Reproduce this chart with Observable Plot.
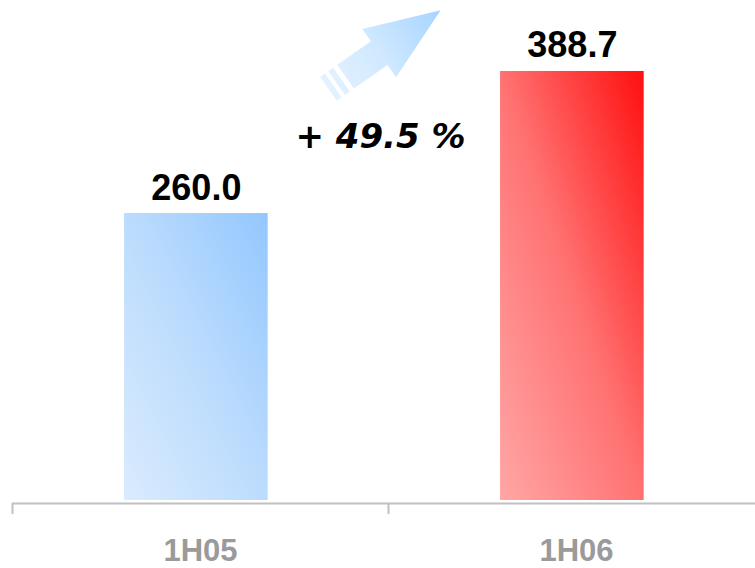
<!DOCTYPE html>
<html>
<head>
<meta charset="utf-8">
<script src="https://cdn.jsdelivr.net/npm/d3@7"></script>
<script src="https://cdn.jsdelivr.net/npm/@observablehq/plot@0.6"></script>
<style>
  html, body { margin: 0; padding: 0; background: #fff; }
  #chart svg { display: block; }
</style>
</head>
<body>
<div id="chart"></div>
<script>
// ---- data ----
const periods = ["1H05", "1H06"];
const revenue = [260.0, 388.7];
const growthPct = (revenue[1] / revenue[0] - 1) * 100;

// ---- styles ----
const barFills = ["url(#gradBlue)", "url(#gradRed)"];

const data = periods.map((period, i) => ({ period, value: revenue[i], i }));

// gradient definitions
function defs() {
  const d = d3.create("svg:defs");
  const mk = (id, stops, x1, y1, x2, y2) => {
    const g = d.append("linearGradient").attr("id", id)
      .attr("x1", x1).attr("y1", y1).attr("x2", x2).attr("y2", y2);
    stops.forEach(([o, c]) => g.append("stop").attr("offset", o).attr("stop-color", c));
  };
  mk("gradBlue", [[0, "#daebfd"], [0.5, "#bcdcfd"], [1, "#93c7ff"]], 0, 1, 1, 0);
  mk("gradRed", [[0, "#ffa6a6"], [0.5, "#ff7272"], [1, "#ff0f0f"]], 0, 1, 1, 0);
  mk("arrowGrad", [[0, "#e4f2ff"], [0.45, "#d0e9ff"], [1, "#a6d4ff"]], 0, 1, 0, 0);
  return d.node();
}

// decorative block arrow shape (drawn pointing up, tip at -l)
const arrowShape = {
  draw(context, l) {
    const tip = -l;
    context.moveTo(0, tip);
    context.lineTo(29.5, tip + 75);
    context.lineTo(14.5, tip + 75);
    context.lineTo(14.5, tip + 116);
    context.lineTo(-14.5, tip + 116);
    context.lineTo(-14.5, tip + 75);
    context.lineTo(-29.5, tip + 75);
    context.closePath();
    context.rect(-14.5, tip + 121, 29, 6);
    context.rect(-14.5, tip + 131, 29, 6);
  }
};

const chart = Plot.plot({
  width: 755,
  height: 568,
  marginTop: 0,
  marginBottom: 68,
  marginLeft: 12,
  marginRight: -9,
  x: { domain: [0, periods.length], axis: null },
  y: { domain: [0, 453], axis: null },
  color: { type: "identity" },
  style: { background: "white" },
  marks: [
    defs,
    Plot.rect(data, {
      x1: d => d.i + 0.298,
      x2: d => d.i + 0.68,
      y1: 0,
      y2: "value",
      fill: d => barFills[d.i]
    }),
    Plot.ruleY([0], { dy: 3, stroke: "#c0c0c0", strokeWidth: 2 }),
    Plot.axisX({
      ticks: d3.range(periods.length + 1),
      tickSize: 11,
      tickFormat: () => "",
      dy: 3,
      stroke: "#c0c0c0",
      strokeWidth: 2,
      strokeOpacity: 1
    }),
    Plot.text(data, {
      x: d => d.i + 0.489,
      y: "value",
      text: d => d3.format(".1f")(d.value),
      lineAnchor: "bottom",
      dy: -14,
      fontSize: 36,
      fontWeight: "bold",
      fontFamily: "Liberation Sans, Arial, sans-serif",
      fill: "#000"
    }),
    Plot.text(data, {
      x: d => d.i + 0.5,
      y: 0,
      text: "period",
      lineAnchor: "bottom",
      dy: 60,
      fontSize: 31,
      fontWeight: "bold",
      fontFamily: "Liberation Sans, Arial, sans-serif",
      fill: "#9a9a9a"
    }),
    Plot.vector([growthPct], {
      x: 1,
      y: revenue[1],
      dx: -4,
      dy: -22,
      length: 137,
      rotate: 55,
      anchor: "middle",
      shape: arrowShape,
      fill: "url(#arrowGrad)",
      stroke: "none"
    }),
    Plot.text([growthPct], {
      x: 1,
      y: revenue[0],
      text: d => `+ ${d.toFixed(1)} %`,
      lineAnchor: "bottom",
      dx: -8,
      dy: -66,
      fontSize: 34,
      fontWeight: "bold",
      fontStyle: "italic",
      fontFamily: "DejaVu Sans, sans-serif",
      fill: "#000"
    })
  ]
});

document.getElementById("chart").appendChild(chart);
</script>
</body>
</html>
